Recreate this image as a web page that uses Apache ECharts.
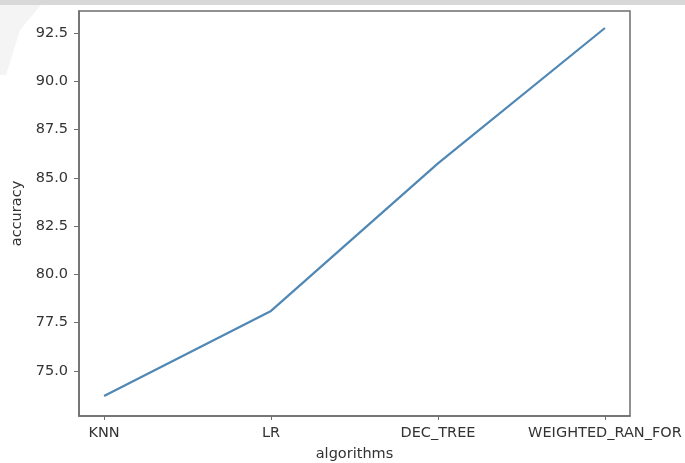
<!DOCTYPE html>
<html>
<head>
<meta charset="utf-8">
<script src="https://cdn.jsdelivr.net/npm/echarts@6/dist/echarts.min.js"></script>
<style>
html,body{margin:0;padding:0;background:#fff;}
#chart{width:685px;height:463px;}
</style>
</head>
<body>
<div id="chart"></div>
<script>
const categories = ['KNN', 'LR', 'DEC_TREE', 'WEIGHTED_RAN_FOR'];
const accuracy = [73.71, 78.11, 85.75, 92.76];
const yTicks = [75.0, 77.5, 80.0, 82.5, 85.0, 87.5, 90.0, 92.5];

const chart = echarts.init(document.getElementById('chart'));
const font = 'DejaVu Sans';
const textColor = '#333';
const axisColor = '#6e6e6e';

chart.setOption({
  animation: false,
  backgroundColor: '#fff',
  grid: { left: 79, right: 55, top: 11, bottom: 47, containLabel: false, outerBoundsMode: 'none',
          show: true, borderColor: axisColor, borderWidth: 1.5, backgroundColor: 'transparent' },
  xAxis: {
    type: 'value',
    min: -0.15,
    max: categories.length - 1 + 0.15,
    name: 'algorithms',
    nameLocation: 'middle',
    nameGap: 31,
    nameTextStyle: { fontFamily: font, fontSize: 14.5, color: textColor },
    axisLine: { show: true, onZero: false, lineStyle: { color: axisColor, width: 1.5 } },
    axisTick: { show: true, length: 4, lineStyle: { color: axisColor },
                customValues: categories.map((c, i) => i) },
    axisLabel: { fontFamily: font, fontSize: 14.5, color: textColor, margin: 10,
                 customValues: categories.map((c, i) => i),
                 formatter: v => categories[Math.round(v)] },
    splitLine: { show: false }
  },
  yAxis: {
    type: 'value',
    min: 72.67,
    max: 93.64,
    name: 'accuracy',
    nameLocation: 'middle',
    nameGap: 53,
    nameTextStyle: { fontFamily: font, fontSize: 14.5, color: textColor },
    axisLine: { show: true, onZero: false, lineStyle: { color: axisColor, width: 1.5 } },
    axisTick: { show: true, length: 5, lineStyle: { color: axisColor }, customValues: yTicks },
    axisLabel: { fontFamily: font, fontSize: 14.5, color: textColor, margin: 11,
                 customValues: yTicks, formatter: v => v.toFixed(1) },
    splitLine: { show: false }
  },
  graphic: [
    { type: 'rect', left: 0, top: 0, shape: { width: 685, height: 5 },
      style: { fill: '#d8d8d8' }, silent: true },
    { type: 'polygon', shape: { points: [[0,0],[45,0],[20,30],[6,75],[0,75]] },
      style: { fill: '#f4f4f4' }, silent: true, z: -1 }
  ],
  series: [{
    type: 'line',
    data: accuracy.map((v, i) => [i, v]),
    showSymbol: false,
    lineStyle: { color: '#4f87b5', width: 2.2 },
    itemStyle: { color: '#4f87b5' }
  }]
});
</script>
</body>
</html>
